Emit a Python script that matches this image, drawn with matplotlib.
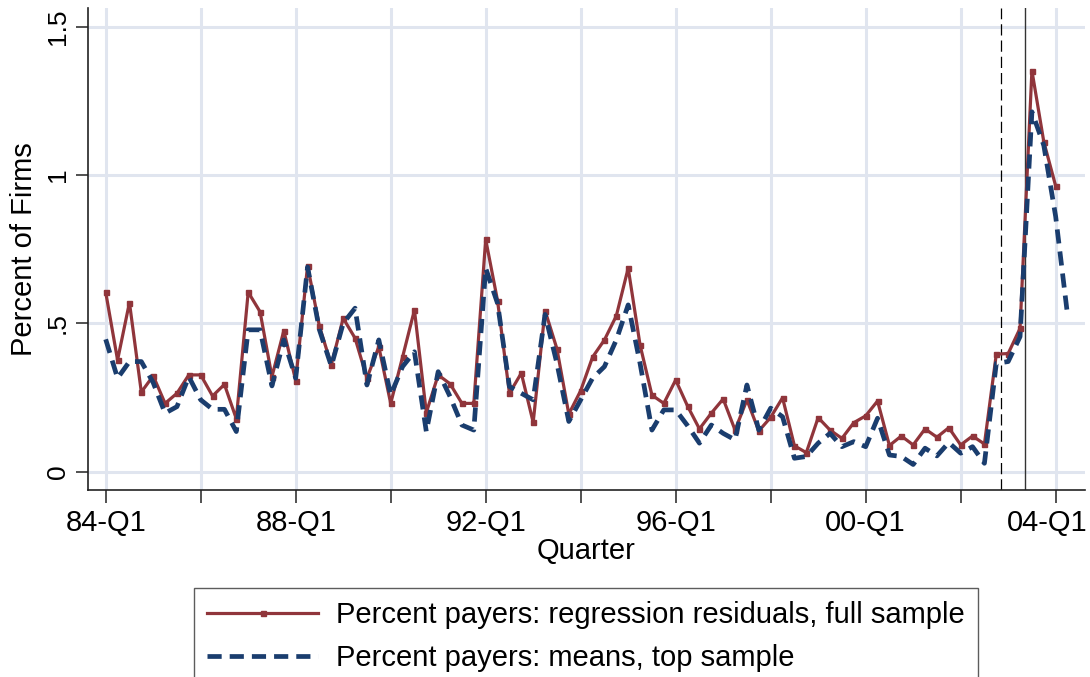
import matplotlib
matplotlib.use("Agg")
import matplotlib.pyplot as plt
import matplotlib.transforms as mtransforms
import numpy as np

# Quarterly series, 84-Q1 onwards (one value per quarter)
resid_full = [0.605, 0.376, 0.570, 0.268, 0.323, 0.230, 0.264, 0.326, 0.326, 0.255,
              0.294, 0.178, 0.605, 0.539, 0.320, 0.475, 0.307, 0.694, 0.490, 0.360,
              0.517, 0.450, 0.315, 0.421, 0.230, 0.386, 0.545, 0.199, 0.326, 0.296,
              0.230, 0.230, 0.783, 0.576, 0.264, 0.332, 0.166, 0.543, 0.414, 0.194,
              0.273, 0.386, 0.444, 0.525, 0.686, 0.427, 0.258, 0.230, 0.309, 0.221,
              0.144, 0.197, 0.245, 0.140, 0.242, 0.137, 0.183, 0.249, 0.087, 0.064,
              0.182, 0.140, 0.112, 0.165, 0.188, 0.238, 0.088, 0.120, 0.090, 0.144,
              0.116, 0.148, 0.090, 0.120, 0.093, 0.396, 0.398, 0.483, 1.352, 1.112,
              0.963]

means_top = [0.446, 0.315, 0.371, 0.371, 0.300, 0.197, 0.219, 0.320, 0.242, 0.210,
             0.210, 0.135, 0.478, 0.478, 0.289, 0.444, 0.315, 0.690, 0.478, 0.356,
             0.500, 0.551, 0.292, 0.444, 0.258, 0.354, 0.404, 0.135, 0.337, 0.253,
             0.157, 0.140, 0.686, 0.567, 0.287, 0.264, 0.242, 0.530, 0.365, 0.169,
             0.242, 0.315, 0.354, 0.444, 0.562, 0.365, 0.140, 0.208, 0.208, 0.155,
             0.096, 0.157, 0.129, 0.107, 0.292, 0.140, 0.214, 0.185, 0.045, 0.051,
             0.096, 0.129, 0.084, 0.101, 0.084, 0.180, 0.056, 0.051, 0.024, 0.079,
             0.053, 0.098, 0.062, 0.084, 0.028, 0.365, 0.371, 0.455, 1.213, 1.100,
             0.860, 0.528]

tick_pos = [0, 16, 32, 48, 64, 80]
tick_labels = ['84-Q1', '88-Q1', '92-Q1', '96-Q1', '00-Q1', '04-Q1']
minor_pos = [8, 24, 40, 56, 72]
y_ticks = [0, 0.5, 1, 1.5]
y_labels = ['0', '.5', '1', '1.5']
event_dashed = 75.4   # announcement
event_solid = 77.4    # enactment

RED = '#90353b'
NAVY = '#1a3d6e'
GRID = '#e0e5ef'

plt.rcParams['font.family'] = ['Liberation Sans', 'DejaVu Sans']

fig = plt.figure(figsize=(10.9, 6.77), dpi=100)
ax = fig.add_axes([88 / 1090, 1 - 490 / 677, (1085 - 88) / 1090, (490 - 8) / 677])

x_red = np.arange(len(resid_full))
x_blue = np.arange(len(means_top))

ax.plot(x_red, resid_full, color=RED, lw=2.3, marker='s', ms=3.6,
        label='Percent payers: regression residuals, full sample', zorder=3)
ax.plot(x_blue, means_top, color=NAVY, lw=3.4, dashes=(3.0, 1.7),
        dash_capstyle='butt', label='Percent payers: means, top sample', zorder=4)

ax.axvline(event_dashed, color='black', lw=0.9, dashes=(9, 4), zorder=2)
ax.axvline(event_solid, color='#333333', lw=1.0, zorder=2)

# grid
for yv in y_ticks:
    ax.axhline(yv, color=GRID, lw=2.2, zorder=1)
for xv in sorted(tick_pos + minor_pos):
    ax.axvline(xv, color=GRID, lw=2.2, zorder=1)

ax.set_xlim(-1.49, 82.47)
ax.set_ylim(-0.062, 1.563)

ax.set_xticks(tick_pos)
ax.set_xticklabels(tick_labels, fontsize=21)
ax.set_xticks(minor_pos, minor=True)
ax.set_yticks(y_ticks)
ax.set_yticklabels(y_labels, fontsize=19, rotation=90, va='center')
ax.tick_params(axis='x', which='both', length=9, width=1.1, color='#222222', pad=5)
ax.tick_params(axis='y', length=9, width=1.1, color='#222222', pad=4)

# last label sits against the right edge, nudge it left so it fits
last = ax.get_xticklabels()[-1]
last.set_transform(last.get_transform() +
                   mtransforms.ScaledTranslation(-8 / 100, 0, fig.dpi_scale_trans))

for side in ['top', 'right']:
    ax.spines[side].set_visible(False)
for side in ['left', 'bottom']:
    ax.spines[side].set_color('#222222')
    ax.spines[side].set_linewidth(1.2)

ax.set_xlabel('Quarter', fontsize=21, labelpad=0)
ax.set_ylabel('Percent of Firms', fontsize=21, labelpad=6)

leg = fig.legend(loc='upper center', bbox_to_anchor=(586 / 1090, 1 - 588 / 677),
                 fontsize=21, handlelength=3.8, handletextpad=0.6,
                 labelspacing=0.5, borderpad=0.45, borderaxespad=0,
                 fancybox=False, numpoints=1)
leg.get_frame().set_edgecolor('#333333')
leg.get_frame().set_linewidth(1.0)

fig.savefig('out.png', dpi=100, facecolor='white')
